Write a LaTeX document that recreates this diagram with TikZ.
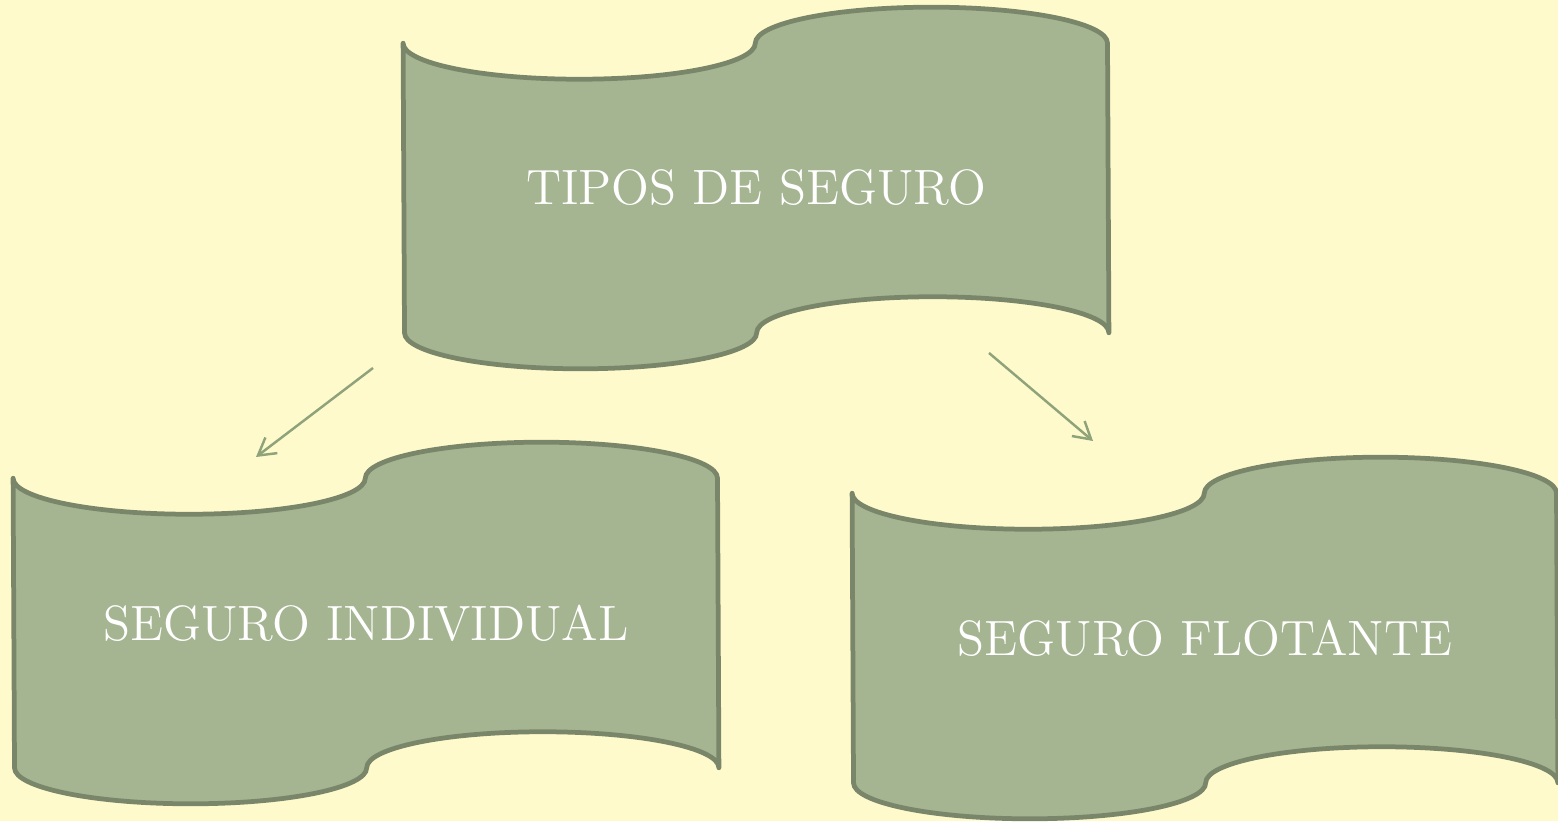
\documentclass[tikz,border=0pt]{standalone}
\usepackage{tikz}
\usetikzlibrary{arrows.meta, positioning}
\definecolor{paper}{HTML}{FEFACC}
\definecolor{wavefill}{HTML}{A5B491}
\definecolor{waveline}{HTML}{7A866A}
\definecolor{linkline}{HTML}{8FA37A}
\pgfdeclarelayer{background}
\pgfsetlayers{background,main}
\tikzset{%
  % Specifications for style of nodes:
	box/.style = {align=center, minimum width=7.04cm, minimum height=2.88cm,
	              inner sep=0pt, text=white, font=\fontsize{14.1}{16}\selectfont},
	wave/.style = {draw=waveline, fill=wavefill, line width=1.35pt, line join=round},
	link/.style = {draw=linkline, line width=0.7pt,
	               -{Straight Barb[length=4.8pt, width=5.6pt]}},
}
% wavy outline round a box node
\newcommand{\drawwave}[1]{%
  \begin{pgfonlayer}{background}
  \draw[wave] (#1.north west)
    arc[start angle=180, end angle=360, x radius=1.76cm, y radius=0.36cm]
    arc[start angle=180, end angle=0, x radius=1.76cm, y radius=0.36cm]
    -- (#1.south east)
    arc[start angle=0, end angle=180, x radius=1.76cm, y radius=0.36cm]
    arc[start angle=0, end angle=-180, x radius=1.76cm, y radius=0.36cm]
    -- cycle;
  \end{pgfonlayer}}

\begin{document}
\begin{tikzpicture}[x=0.01cm, y=0.01cm]
  \begin{pgfonlayer}{background}
  \fill[paper] (0,0) rectangle (1558,821);
  \end{pgfonlayer}
  \useasboundingbox (0,0) rectangle (1558,821);
  % Specification of nodes (position, etc.)
  \node (tipos) [box] at (756,633) {TIPOS DE SEGURO};
  \node (individual) [box] at (366,198) {SEGURO INDIVIDUAL};
  \node (flotante) [box] at (1205,183) {SEGURO FLOTANTE};

  \drawwave{tipos}
  \drawwave{individual}
  \drawwave{flotante}

  % free ends of the two arrows
  \coordinate (c1) at (373,453);
  \coordinate (c2) at (256,364);
  \coordinate (c3) at (989,468);
  \coordinate (c4) at (1093,380);

  \draw [link] (c1) -- (c2);
  \draw [link] (c3) -- (c4);
\end{tikzpicture}
\end{document}
